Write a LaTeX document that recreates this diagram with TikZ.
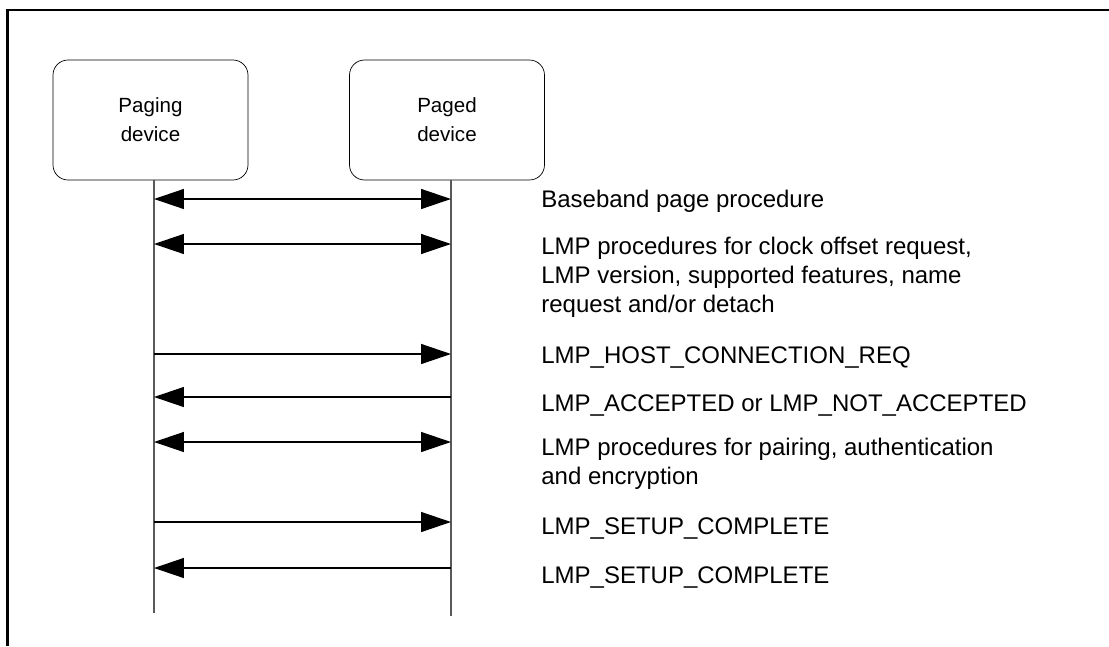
\documentclass[tikz,border=0pt]{standalone}
\usepackage{fontspec}
\setmainfont{Liberation Sans}
\usetikzlibrary{positioning, arrows.meta}

\begin{document}
\begin{tikzpicture}[x=0.02cm, y=-0.02cm]
	\tikzset{
		device/.style={draw, rounded corners=0.3cm, minimum width=3.9cm, minimum height=2.4cm, align=center, font=\fontsize{11.7}{16.5}\selectfont},
		lifeline/.style={draw=black!65, line width=0.6pt},
		msgtext/.style={inner sep=0pt, align=left, font=\fontsize{13.66}{16.5}\selectfont},
		tip/.tip={Triangle[length=0.6cm, width=0.4cm]},
		twoway/.style={line width=0.8pt, tip-tip},
		toR/.style={line width=0.8pt, -tip},
		toL/.style={line width=0.8pt, tip-}
	}
	\useasboundingbox (0,0) rectangle (1109,646);
	% frame
	\draw[line width=1.2pt] (1109,10) -- (7.5,10) -- (7.5,646);
	% devices
	\node[device] (paging) at (150.5,120) {Paging\\device};
	\node[device] (paged) at (447,120) {Paged\\device};
	\coordinate (pgtop) at (154,180);
	\coordinate (pgend) at (154,613);
	\coordinate (pdtop) at (451,180);
	\coordinate (pdend) at (451,616);
	\draw[lifeline] (pgtop) -- (pgend);
	\draw[lifeline] (pdtop) -- (pdend);
	% messages
	\foreach \y/\dir [count=\i] in {199/twoway,244/twoway,354/toR,397/toL,442/twoway,522/toR,568/toL} {
		\coordinate (L\i) at (154,\y);
		\coordinate (R\i) at (451,\y);
		\draw[\dir] (L\i) -- (R\i);
	}
	\node[msgtext, anchor=base west] (m1) at (541,207) {Baseband page procedure};
	\node[msgtext, anchor=north west] (m2) at (541,237) {LMP procedures for clock offset request,\\LMP version, supported features, name\\request and/or detach};
	\node[msgtext, anchor=base west] (m3) at (541,363.6) {LMP\_HOST\_CONNECTION\_REQ};
	\node[msgtext, anchor=base west] (m4) at (541,411) {LMP\_ACCEPTED or LMP\_NOT\_ACCEPTED};
	\node[msgtext, anchor=north west] (m5) at (541,438) {LMP procedures for pairing, authentication\\and encryption};
	\node[msgtext, anchor=base west] (m6) at (541,534) {LMP\_SETUP\_COMPLETE};
	\node[msgtext, anchor=base west] (m7) at (541,583.6) {LMP\_SETUP\_COMPLETE};
\end{tikzpicture}
\end{document}
